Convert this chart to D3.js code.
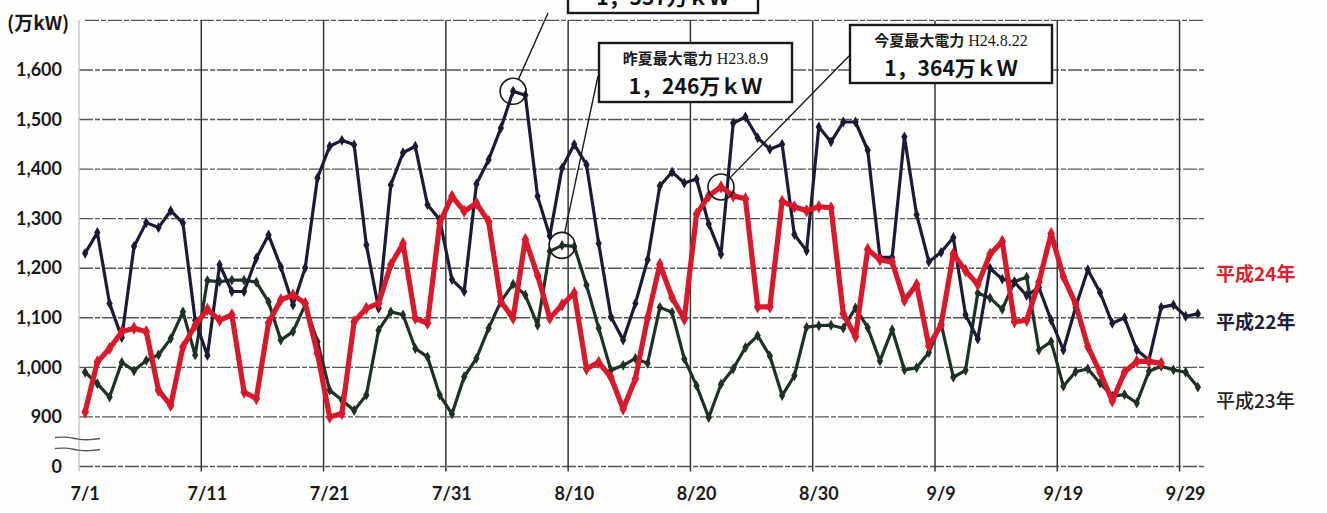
<!DOCTYPE html>
<html lang="ja">
<head>
<meta charset="utf-8">
<title>最大電力の推移（7月～9月）</title>
<script src="https://cdn.jsdelivr.net/npm/d3@7"></script>
<style>
  html, body { margin: 0; padding: 0; background: #fefefc; }
  svg { display: block; }
  .tick text { font-family: Lato, "Open Sans", sans-serif; font-weight: 700; fill: #1a1a1a; }
  .jp { font-family: "Noto Sans CJK JP", sans-serif; }
</style>
</head>
<body>
<svg id="chart" width="1327" height="513"></svg>
<script>
// Daily peak demand, 1 July – 30 September (万kW)
const dates = d3.timeDay.range(new Date(2012, 6, 1), new Date(2012, 9, 1));
const days = dates.map(d => `${d.getMonth() + 1}/${d.getDate()}`);

const xTickLabels = ["7/1", "7/11", "7/21", "7/31", "8/10", "8/20", "8/30", "9/9", "9/19", "9/29"];
const yTickValues = [0, 900, 1000, 1100, 1200, 1300, 1400, 1500, 1600];
const gridValues = [0, 900, 1000, 1100, 1200, 1300, 1400, 1500, 1600, 1700];

// 平成22年 (2010)
const h22 = [
  1230, 1272, 1129, 1060, 1244, 1292, 1282, 1316, 1291, 1095,
  1024, 1207, 1153, 1153, 1220, 1267, 1203, 1126, 1201, 1382,
  1446, 1458, 1449, 1247, 1119, 1368, 1433, 1446, 1328, 1298,
  1177, 1153, 1370, 1419, 1483, 1557, 1549, 1345, 1265, 1402,
  1450, 1409, 1250, 1102, 1055, 1129, 1217, 1366, 1394, 1372,
  1380, 1289, 1228, 1493, 1505, 1463, 1440, 1450, 1268, 1235,
  1485, 1455, 1495, 1495, 1438, 1222, 1222, 1465, 1308, 1213,
  1232, 1262, 1106, 1057, 1200, 1178, 1172, 1145, 1161, 1095,
  1035, 1121, 1197, 1151, 1089, 1100, 1035, 1015, 1121, 1126,
  1103, 1108
];

// 平成23年 (2011)
const h23 = [
  990, 967, 940, 1010, 993, 1014, 1025, 1058, 1112, 1025,
  1175, 1173, 1176, 1176, 1172, 1132, 1055, 1072, 1126, 1052,
  954, 934, 913, 944, 1075, 1112, 1106, 1038, 1021, 944,
  906, 981, 1018, 1079, 1133, 1168, 1146, 1085, 1234, 1246,
  1244, 1166, 1079, 994, 1004, 1018, 1008, 1121, 1111, 1017,
  963, 890, 966, 997, 1040, 1064, 1023, 943, 983, 1081,
  1084, 1085, 1079, 1120, 1080, 1013, 1076, 995, 999, 1030,
  1088, 980, 994, 1150, 1140, 1117, 1173, 1182, 1035, 1052,
  962, 991, 997, 968, 942, 945, 928, 992, 1002, 995,
  990, 960
];

// 平成24年 (2012), through 9/28
const h24 = [
  910, 1011, 1038, 1072, 1079, 1072, 954, 923, 1041, 1085,
  1117, 1095, 1106, 950, 937, 1090, 1136, 1146, 1129, 1028,
  897, 907, 1092, 1119, 1129, 1207, 1250, 1099, 1089, 1291,
  1345, 1315, 1331, 1294, 1133, 1099, 1258, 1186, 1099, 1126,
  1150, 997, 1010, 980, 916, 977, 1100, 1208, 1141, 1097,
  1309, 1346, 1364, 1346, 1340, 1122, 1122, 1335, 1324, 1316,
  1324, 1322, 1108, 1062, 1238, 1217, 1212, 1135, 1167, 1043,
  1086, 1229, 1195, 1167, 1228, 1254, 1092, 1095, 1172, 1270,
  1183, 1128, 1042, 990, 932, 990, 1012, 1012, 1008
];

const series = [
  { name: "平成23年", values: h23, color: "#1d3226", width: 3.2, marker: 34 },
  { name: "平成22年", values: h22, color: "#1b1b36", width: 3.2, marker: 34 },
  { name: "平成24年", values: h24, color: "#d8192c", width: 5.2, marker: 50 }
];

// Peak-day callouts: series, day, heading
const callouts = [
  { values: h22, day: "8/5",  head: null,           date: null,       box: [568, -46, 190, 59] },
  { values: h23, day: "8/9",  head: "昨夏最大電力", date: "H23.8.9",  box: [599, 43, 193, 59] },
  { values: h24, day: "8/22", head: "今夏最大電力", date: "H24.8.22", box: [850, 25, 202, 58] }
];

const legendItems = [
  { text: "平成24年", color: "#e01e2f", weight: 700, y: 274 },
  { text: "平成22年", color: "#1e1e3c", weight: 700, y: 322 },
  { text: "平成23年", color: "#222222", weight: 500, y: 401 }
];

const svg = d3.select("#chart");
const left = 79, right = 1204;

const x = d3.scaleBand().domain(days).range([left, right]);
const cx = d => x(d) + x.bandwidth() / 2;
// Broken axis: 0 sits one step below 900
const y = d3.scaleLinear().domain([0, 900, 1700]).range([466.5, 416.9, 20.4]);

// Horizontal grid + y labels
const yAxis = d3.axisLeft(y)
  .tickValues(yTickValues)
  .tickSize(0)
  .tickPadding(17)
  .tickFormat(d3.format(","));

svg.append("g")
  .selectAll("line")
  .data(gridValues)
  .join("line")
  .attr("x1", d => d === 1700 ? 85 : left)
  .attr("x2", right)
  .attr("y1", d => y(d))
  .attr("y2", d => y(d))
  .attr("stroke", "#565656")
  .attr("stroke-width", 1.4)
  .attr("stroke-dasharray", "14 2 5 2");

// Vertical grid at every 10th day boundary
svg.append("g")
  .selectAll("line")
  .data(days.filter((d, i) => i % 10 === 0))
  .join("line")
  .attr("x1", d => x(d))
  .attr("x2", d => x(d))
  .attr("y1", y(1700))
  .attr("y2", y(0) + 5)
  .attr("stroke", (d, i) => i === 0 ? "#c8c8c8" : "#363636")
  .attr("stroke-width", 1.5);

const gy = svg.append("g").attr("transform", `translate(${left},0)`).call(yAxis);
gy.select(".domain").remove();
gy.selectAll("text").style("font-size", "18px");

// x labels at category centres
const xAxis = d3.axisBottom(x).tickValues(xTickLabels).tickSize(0).tickPadding(21);
const gx = svg.append("g").attr("transform", `translate(0,${y(0)})`).call(xAxis);
gx.select(".domain").remove();
gx.selectAll("text").style("font-size", "18px");

// Axis break marks
const wave = d3.line().curve(d3.curveBasis);
[438.5, 449.5].forEach(yy => {
  svg.append("path")
    .attr("d", wave([[55, yy - 1], [66, yy - 2], [78, yy + 1], [90, yy + 1.5], [100, yy]]))
    .attr("fill", "none")
    .attr("stroke", "#555")
    .attr("stroke-width", 1.3);
});

// Unit label
svg.append("text")
  .attr("class", "jp")
  .attr("x", 7).attr("y", 30)
  .style("font-size", "19px").style("font-weight", 700)
  .attr("fill", "#1a1a1a")
  .text("(万kW)");

// Series lines and diamond markers
const line = d3.line().x((d, i) => cx(days[i])).y(d => y(d));
series.forEach(s => {
  const g = svg.append("g");
  g.append("path")
    .datum(s.values)
    .attr("d", line)
    .attr("fill", "none")
    .attr("stroke", s.color)
    .attr("stroke-width", s.width)
    .attr("stroke-linejoin", "round");
  g.selectAll("path.m")
    .data(s.values)
    .join("path")
    .attr("class", "m")
    .attr("transform", (d, i) => `translate(${cx(days[i])},${y(d)})`)
    .attr("d", d3.symbol(d3.symbolDiamond, s.marker))
    .attr("fill", s.color);
});

// Callouts
const fmtVal = v => d3.format(",")(v).replace(",", "，") + "万ｋＷ";
callouts.forEach(c => {
  const i = days.indexOf(c.day);
  const px = cx(c.day), py = y(c.values[i]);
  const [bx, by, bw, bh] = c.box;
  const g = svg.append("g");
  g.append("circle")
    .attr("cx", px).attr("cy", py).attr("r", 13)
    .attr("fill", "none").attr("stroke", "#1a1a1a").attr("stroke-width", 1.6);
  // leader from circle edge to the box
  const tx = c.day === "8/5" ? 548 : bx - 1;
  const ty = c.day === "8/5" ? by + bh : (c.day === "8/9" ? by + 33 : by + 31);
  const ang = Math.atan2(ty - py, tx - px);
  g.append("line")
    .attr("x1", px + 13 * Math.cos(ang)).attr("y1", py + 13 * Math.sin(ang))
    .attr("x2", tx).attr("y2", ty)
    .attr("stroke", "#1a1a1a").attr("stroke-width", 1.4);
  g.append("rect")
    .attr("x", bx).attr("y", by).attr("width", bw).attr("height", bh)
    .attr("fill", "#ffffff").attr("stroke", "#1a1a1a").attr("stroke-width", 2.4);
  if (c.head) {
    const t1 = g.append("text")
      .attr("x", bx + bw / 2).attr("y", by + 21)
      .attr("text-anchor", "middle").attr("fill", "#1a1a1a");
    t1.append("tspan").attr("class", "jp")
      .style("font-size", "15px").style("font-weight", 700)
      .text(c.head);
    t1.append("tspan")
      .style("font-family", "'Liberation Serif', 'DejaVu Serif', serif")
      .style("font-size", "16px")
      .text(" " + c.date);
  }
  g.append("text")
    .attr("class", "jp")
    .attr("x", bx + bw / 2).attr("y", by + 51)
    .attr("text-anchor", "middle").attr("fill", "#111")
    .style("font-size", "21px").style("font-weight", 700)
    .text(fmtVal(c.values[i]));
});

// Series labels on the right
svg.append("g")
  .selectAll("text")
  .data(legendItems)
  .join("text")
  .attr("class", "jp")
  .attr("x", 1216).attr("y", d => d.y + 7)
  .attr("fill", d => d.color)
  .style("font-size", "19px")
  .style("font-weight", d => d.weight)
  .text(d => d.text);
</script>
</body>
</html>
